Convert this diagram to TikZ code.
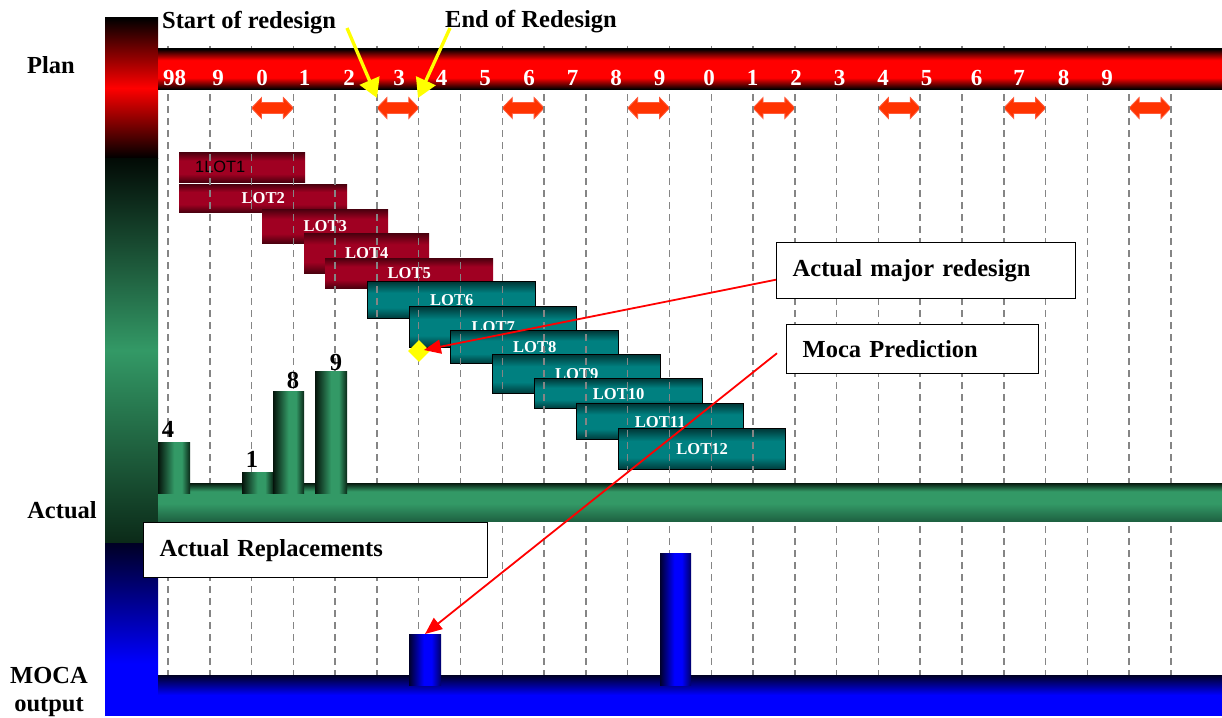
\documentclass[tikz,border=0pt]{standalone}
\usepackage{fontspec}
\setmainfont{Liberation Serif}
\newfontfamily\lotsans{Liberation Sans}
\usetikzlibrary{arrows.meta,shapes.geometric,calc}

\definecolor{crimsonmid}{HTML}{A00022}
\definecolor{crimsondark}{HTML}{4A000E}
\definecolor{tealmid}{HTML}{008080}
\definecolor{tealdark}{HTML}{003838}
\definecolor{greenmid}{HTML}{339966}
\definecolor{greentop}{HTML}{06180D}
\definecolor{greenlow}{HTML}{1E6242}
\definecolor{cyledge}{HTML}{05140B}
\definecolor{cyledgeb}{HTML}{0A2817}
\definecolor{sidegreentop}{HTML}{020A05}
\definecolor{sidegreenbot}{HTML}{0B2A18}
\definecolor{navydark}{HTML}{000024}
\definecolor{navyedge}{HTML}{00002A}
\definecolor{navyedgeb}{HTML}{000066}
\definecolor{arrowred}{HTML}{FF3300}
\definecolor{arrowedge}{HTML}{FF5A3A}
\definecolor{gridgray}{HTML}{858585}
\definecolor{pointer}{HTML}{FFFF00}

% plan bar: dark rim, bright red core
\pgfdeclareverticalshading{planshade}{100bp}{color(0bp)=(black); color(25bp)=(black); color(39bp)=(red); color(61bp)=(red); color(75bp)=(black); color(100bp)=(black)}
% actual bar
\pgfdeclareverticalshading{actualshade}{100bp}{color(0bp)=(greenlow); color(25bp)=(greenlow); color(48bp)=(greenmid); color(64bp)=(greenmid); color(75bp)=(greentop); color(100bp)=(greentop)}
% MOCA bar
\pgfdeclareverticalshading{mocashade}{100bp}{color(0bp)=(blue); color(25bp)=(blue); color(50bp)=(blue); color(75bp)=(navydark); color(100bp)=(navydark)}
% blue part of the side column
\pgfdeclareverticalshading{sideblue}{100bp}{color(0bp)=(blue); color(25bp)=(blue); color(40bp)=(blue); color(75bp)=(navydark); color(100bp)=(navydark)}
% lot bars
\pgfdeclareverticalshading{oldlotshade}{100bp}{color(0bp)=(crimsondark); color(25bp)=(crimsondark); color(39bp)=(crimsonmid); color(61bp)=(crimsonmid); color(75bp)=(crimsondark); color(100bp)=(crimsondark)}
\pgfdeclareverticalshading{newlotshade}{100bp}{color(0bp)=(tealdark); color(25bp)=(tealdark); color(40bp)=(tealmid); color(60bp)=(tealmid); color(75bp)=(tealdark); color(100bp)=(tealdark)}
% round bars
\pgfdeclarehorizontalshading{greencyl}{100bp}{color(0bp)=(cyledge); color(25bp)=(cyledge); color(50bp)=(greenmid); color(62bp)=(greenmid); color(75bp)=(cyledgeb); color(100bp)=(cyledgeb)}
\pgfdeclarehorizontalshading{bluecyl}{100bp}{color(0bp)=(navyedge); color(25bp)=(navyedge); color(48bp)=(blue); color(60bp)=(blue); color(75bp)=(navyedgeb); color(100bp)=(navyedgeb)}

\tikzset{
  lbl/.style={font=\fontsize{24.5pt}{28pt}\selectfont\bfseries, inner sep=0pt},
  yearnum/.style={font=\fontsize{23pt}{26pt}\selectfont\bfseries, text=white, inner sep=0pt, anchor=base},
  lotname/.style={font=\fontsize{16.6pt}{18pt}\selectfont\bfseries, text=white},
  oldlot/.style={lotname, shade, shading=oldlotshade, draw=none, inner sep=0pt, anchor=north west},
  newlot/.style={lotname, shade, shading=newlotshade, draw=black, line width=1.4pt, inner sep=0pt, anchor=north west},
  gridline/.style={gridgray, line width=1.5pt, dash pattern=on 7pt off 5pt},
  gcyl/.style={shade, shading=greencyl, inner sep=0pt, outer sep=0pt, anchor=south west},
  bcyl/.style={shade, shading=bluecyl, inner sep=0pt, outer sep=0pt, anchor=south west},
  note/.style={lbl, draw=black, fill=white, line width=1.4pt, align=left, inner xsep=16pt, anchor=north west},
  pointerarrow/.style={draw=pointer, line width=3.3pt, -{Triangle[length=19pt,width=21pt]}},
  callout/.style={draw=red, line width=1.8pt, -{Triangle[length=17pt,width=14pt]}},
  pics/twoway/.style={code={
    \fill[arrowred, draw=arrowedge, line width=0.8pt]
      (0,0) -- (10,-10.5) -- (10,-5.5) -- (31.8,-5.5) -- (31.8,-10.5) -- (41.8,0)
      -- (31.8,10.5) -- (31.8,5.5) -- (10,5.5) -- (10,10.5) -- cycle;
  }}
}

\begin{document}
\begin{tikzpicture}[x=1pt,y=-1pt]
\useasboundingbox (0,0) rectangle (1222,717);

% side column
\shade[top color=black, bottom color=black, middle color=red] (105,18) rectangle (158,158);
\shade[top color=sidegreentop, bottom color=sidegreenbot, middle color=greenmid] (105,158) rectangle (158,543);
\shade[shading=sideblue] (105,543) rectangle (158,715);

% production lots
\node[oldlot, minimum width=126pt, minimum height=30pt] (lot1) at (179,152) {};
\node[font=\lotsans\fontsize{16.4pt}{18pt}\selectfont, text=black, inner sep=0pt, anchor=base west] (lot1name) at (195,172) {1LOT1};
\foreach \n/\x/\y/\w/\h in {2/179/184/168/28, 3/262/209/126/34, 4/304/233/125/40, 5/325/258/168/30}
  \node[oldlot, minimum width=\w pt, minimum height=\h pt] (lot\n) at (\x,\y) {LOT\n};
\foreach \n/\x/\y/\w/\h in {6/367/281/168/37, 7/409/306/167/41, 8/450/330/168/33, 9/492/354/168/39, 10/534/378/168/30, 11/576/403/167/36, 12/618/428/167/41}
  \node[newlot, minimum width=\w pt, minimum height=\h pt] (lot\n) at (\x,\y) {LOT\n};

% redesign windows
\foreach \j in {0,...,7}
  \pic at ({168+41.79*(2+3*\j)},108) {twoway};

% year grid
\foreach \k in {0,...,24}
  \draw[gridline] ({168+41.79*\k},46) -- ({168+41.79*\k},676);

% plan bar with years
\shade[shading=planshade] (158,49) rectangle (1222,89);
\foreach \xx/\lab [count=\i] in {174.5/98, 218/9, 262/0, 304.5/1, 349/2, 399/3, 441.7/4, 485/5, 529/6, 572.5/7, 616/8, 659.5/9, 709/0, 752.5/1, 796/2, 839.5/3, 883/4, 926.5/5, 976.7/6, 1019/7, 1063.5/8, 1107/9}
  \node[yearnum] (yr\i) at (\xx,85) {\lab};

% redesign marker
\node[diamond, aspect=1, fill=pointer, minimum size=22pt, inner sep=0pt] (mark) at (419,351) {};

% actual replacements
\shade[shading=actualshade] (158,483) rectangle (1222,521);
\node[gcyl, minimum width=32pt, minimum height=51pt] (rep4) at (158,493) {};
\node[gcyl, minimum width=31pt, minimum height=21pt] (rep1) at (242,493) {};
\node[gcyl, minimum width=31pt, minimum height=102pt] (rep8) at (273,493) {};
\node[gcyl, minimum width=32pt, minimum height=122pt] (rep9) at (315,493) {};
\node[lbl, anchor=base] (n4) at (168,437) {4};
\node[lbl, anchor=base] (n1) at (252,467) {1};
\node[lbl, anchor=base] (n8) at (293,388) {8};
\node[lbl, anchor=base] (n9) at (336,370) {9};

% MOCA output
\shade[shading=mocashade] (158,675) rectangle (1222,715);
\node[bcyl, minimum width=32pt, minimum height=51pt] (mocabar) at (409,685) {};
\node[bcyl, minimum width=31pt, minimum height=132pt] (mocabarb) at (660,685) {};

% text boxes
\node[note, text width=312pt, minimum height=55pt] (repbox) at (143,522) {Actual Replacements};
\node[note, text width=267pt, minimum height=56pt] (amr) at (776,242) {Actual major redesign};
\node[note, text width=220pt, minimum height=49pt] (moca) at (786,324) {Moca Prediction};

% row titles
\node[lbl, anchor=base] (planlbl) at (51,73) {Plan};
\node[lbl, anchor=base] (actuallbl) at (62,518) {Actual};
\node[lbl, anchor=base] (mocalbl) at (49,683) {MOCA};
\node[lbl, anchor=base] (outputlbl) at (49,711) {output};

% redesign period
\node[lbl, anchor=base west] (startlbl) at (162,29) {Start of redesign};
\node[lbl, anchor=base west] (endlbl) at (445,28) {End of Redesign};
\coordinate (startfrom) at (347,28);
\coordinate (startat) at (377,98);
\coordinate (endfrom) at (450,28);
\coordinate (endat) at (418,98);
\draw[pointerarrow] (startfrom) -- (startat);
\draw[pointerarrow] (endfrom) -- (endat);

% callouts
\draw[callout, shorten >=5pt] ($(amr.west)+(0,9)$) -- (mark.center);
\draw[callout] ($(moca.west)+(-9,4)$) -- (mocabar.north);
\end{tikzpicture}
\end{document}
